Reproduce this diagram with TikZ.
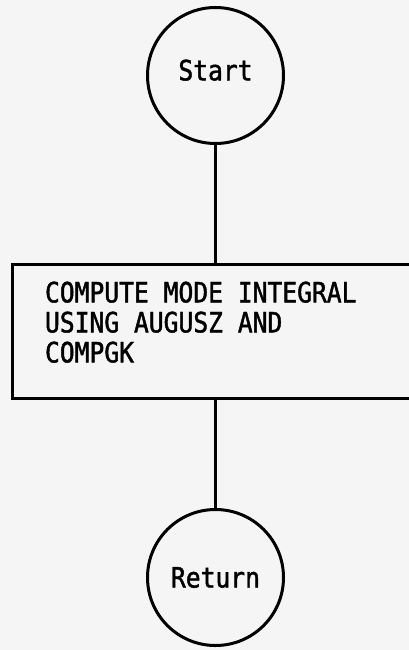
\documentclass[tikz,border=0pt]{standalone}
\usepackage{fontspec}
\setmonofont[FakeStretch=0.88, FakeBold=1.5]{DejaVu Sans Mono}
\usetikzlibrary{positioning}
\protected\def\chartfont{\fontsize{28}{30}\selectfont\ttfamily}
\newcommand\gap{\phantom{X}}

\begin{document}
\begin{tikzpicture}[
  x=1pt, y=-1pt,
  node distance=118pt,
  term/.style={circle, draw, line width=3pt, minimum size=136pt, inner sep=0pt, font=\chartfont},
  procbox/.style={rectangle, draw, line width=3pt, minimum width=400pt, minimum height=134pt, text width=334pt, inner xsep=33pt, align=left, font=\chartfont},
  link/.style={line width=3pt},
]
  \clip (0,0) rectangle (409,650);
  \fill[white!96!black] (0,0) rectangle (409,650);

  \node[term, text depth=11pt] (start) at (215.5,75.5) {Start};
  \node[procbox, below=118pt of start, xshift=-3.5pt] (compute) {COMPUTE\gap MODE\gap INTEGRAL\\USING\gap AUGUSZ\gap AND\\COMPGK\rule[-19pt]{0pt}{0pt}};
  \node[term, below=108pt of compute, xshift=3.5pt] (ret) {Return};

  % flow lines
  \draw[link] (start.south) -- (start.south |- compute.north);
  \draw[link] (compute.south -| ret.north) -- (ret.north);
\end{tikzpicture}
\end{document}
